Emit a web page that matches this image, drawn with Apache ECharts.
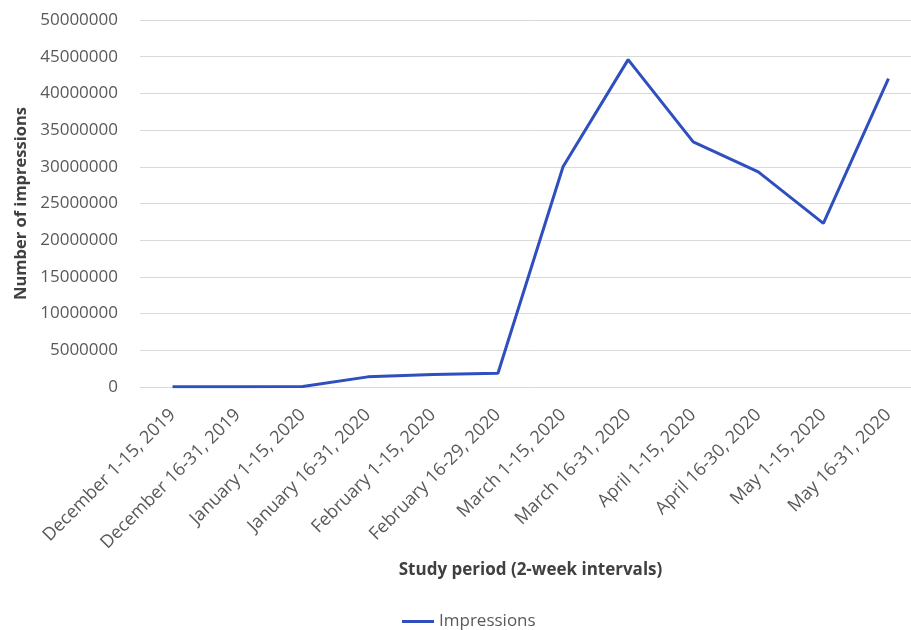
<!DOCTYPE html>
<html><head><meta charset="utf-8">
<script src="https://cdn.jsdelivr.net/npm/echarts@6/dist/echarts.min.js"></script>
<style>html,body{margin:0;padding:0;background:#fff;overflow:hidden}#c{width:930px;height:630px}</style>
</head><body><div id="c"></div>
<script>
const categories = ["December 1-15, 2019","December 16-31, 2019","January 1-15, 2020","January 16-31, 2020","February 1-15, 2020","February 16-29, 2020","March 1-15, 2020","March 16-31, 2020","April 1-15, 2020","April 16-30, 2020","May 1-15, 2020","May 16-31, 2020"];
const impressions = [20000, 30000, 60000, 1380000, 1700000, 1880000, 30000000, 44600000, 33400000, 29300000, 22300000, 42000000];
const seriesName = "Impressions";
const xTitle = "Study period (2-week intervals)";
const yTitle = "Number of impressions";

const chart = echarts.init(document.getElementById('c'), null, {renderer:'canvas'});
const font = "'Open Sans', 'Liberation Sans', sans-serif";
chart.setOption({
  animation:false,
  textStyle:{fontFamily:font},
  grid:{left:140, width:781, top:20, bottom:243, containLabel:false},
  legend:{top:608, left:397, icon:'rect', itemWidth:32, itemHeight:3, itemGap:4,
    textStyle:{fontFamily:font, fontSize:17, color:'#595959'}, data:[seriesName]},
  xAxis:{type:'category', data:categories, boundaryGap:true,
    name:xTitle, nameLocation:'middle', nameGap:175,
    nameTextStyle:{fontFamily:font, fontSize:17, fontWeight:'bold', color:'#404040'},
    axisLine:{show:true, lineStyle:{color:'#d9d9d9'}}, axisTick:{show:false},
    axisLabel:{rotate:45, interval:0, margin:25, fontSize:18, color:'#595959', fontFamily:font}},
  yAxis:{type:'value', min:0, max:50000000, interval:5000000,
    name:yTitle, nameLocation:'middle', nameGap:110, nameRotate:90,
    nameTextStyle:{fontFamily:font, fontSize:16.5, fontWeight:'bold', color:'#404040'},
    axisLine:{show:false}, axisTick:{show:false},
    axisLabel:{margin:22, fontSize:17, color:'#595959', fontFamily:font, formatter:function(v){return String(v);}},
    splitLine:{lineStyle:{color:'#d9d9d9', width:1}}},
  series:[{name:seriesName, type:'line', data:impressions, symbol:'none',
    lineStyle:{color:'#2e4fbd', width:3}, itemStyle:{color:'#2e4fbd'}}]
});
</script></body></html>
